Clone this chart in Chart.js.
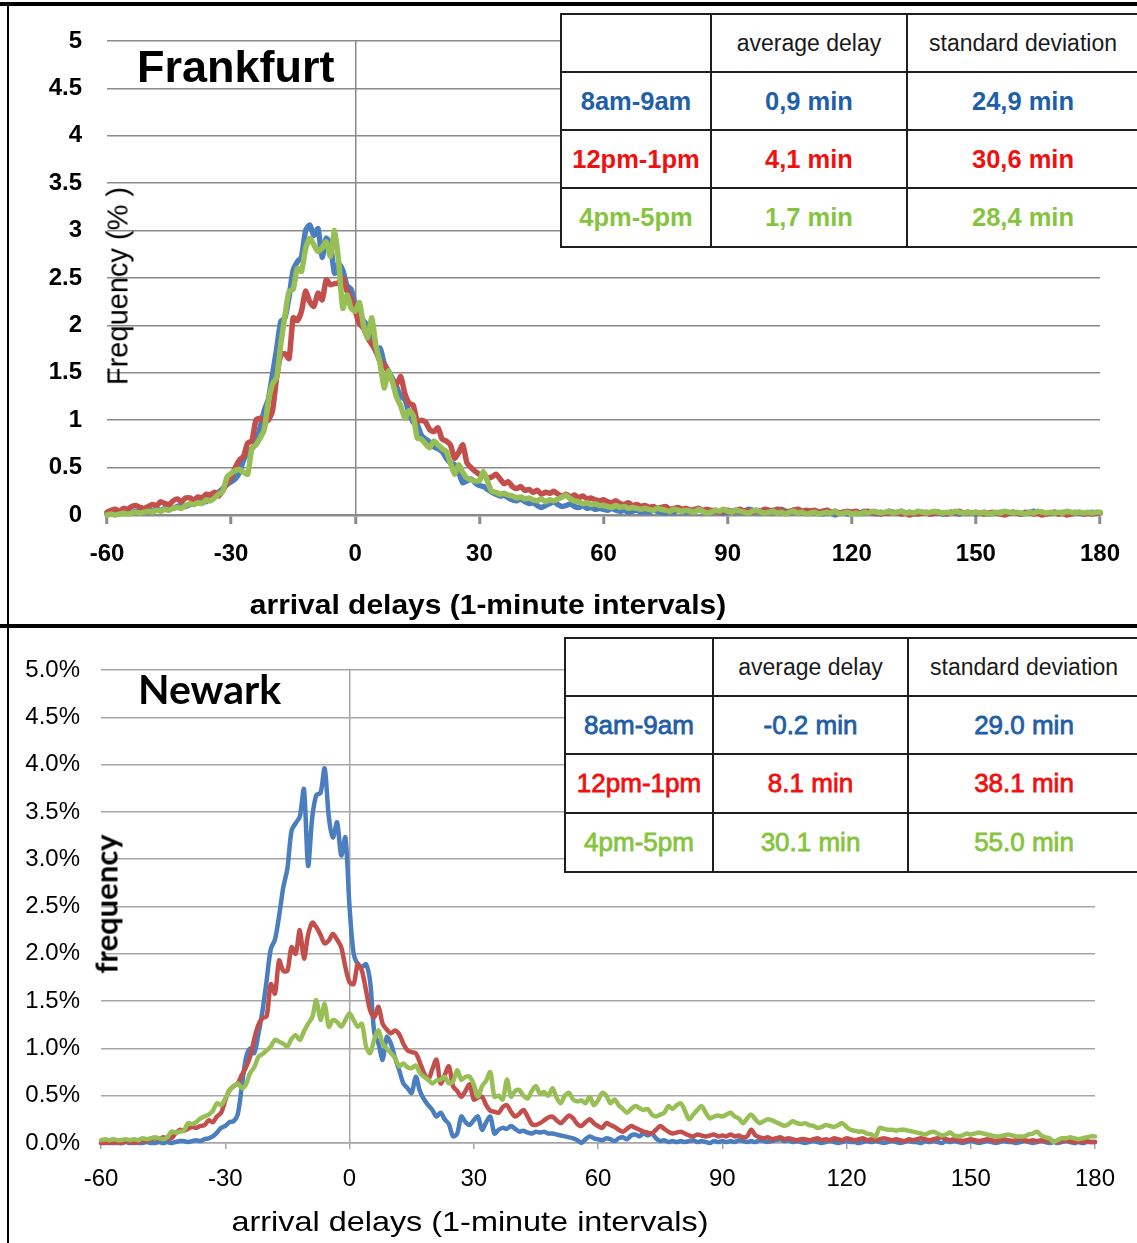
<!DOCTYPE html>
<html><head><meta charset="utf-8">
<script src="https://cdn.jsdelivr.net/npm/chart.js@4.4.1/dist/chart.umd.min.js"></script>
<style>
html,body{margin:0;padding:0;background:#fff;}
body{width:1137px;height:1243px;position:relative;overflow:hidden;font-family:'Liberation Sans',Arial,sans-serif;}
canvas{position:absolute;left:0;}
.lbl{position:absolute;white-space:nowrap;line-height:1;color:#000;}
.bar{position:absolute;background:#000;}
table.stats{position:absolute;border-collapse:collapse;table-layout:fixed;background:#fff;}
table.stats td{border:2px solid #1e1e1e;text-align:center;vertical-align:middle;padding:0;white-space:nowrap;overflow:hidden;}
table.stats td.h{font-size:23px;color:#1a1a1a;}
table.fra td.d{font-size:25.5px;font-weight:bold;}
table.ewr td.d{font-size:26px;-webkit-text-stroke:0.8px currentColor;}
.c1{color:#1f5ea8;} .c2{color:#f01010;} .c3{color:#86c440;}
</style></head><body>

<canvas id="fra" width="1137" height="625" style="top:0"></canvas>
<canvas id="ewr" width="1137" height="618" style="top:625px"></canvas>

<div class="lbl" style="left:137px;top:44px;font-size:45px;font-weight:bold;">Frankfurt</div>
<div class="lbl" style="left:118px;top:286px;font-size:29px;transform:translate(-50%,-50%) rotate(-90deg);">Frequency (% )</div>
<div class="lbl" style="left:488px;top:592px;font-size:27px;font-weight:bold;transform:translateX(-50%) scaleX(1.11);">arrival delays (1-minute intervals)</div>

<div class="lbl" style="left:138px;top:668px;font-size:41px;font-weight:bold;font-family:Lato,'Liberation Sans',sans-serif;">Newark</div>
<div class="lbl" style="left:106px;top:904px;font-size:31px;font-weight:bold;font-family:Lato,'Liberation Sans',sans-serif;transform:translate(-50%,-50%) rotate(-90deg);">frequency</div>
<div class="lbl" style="left:470px;top:1208px;font-size:28px;transform:translateX(-50%) scaleX(1.157);">arrival delays (1-minute intervals)</div>

<table class="stats fra" style="left:560px;top:13px;width:578px;">
<colgroup><col style="width:150px"><col style="width:196px"><col style="width:232px"></colgroup>
<tr style="height:58px"><td></td><td class="h">average delay</td><td class="h">standard deviation</td></tr>
<tr style="height:58px"><td class="d c1">8am-9am</td><td class="d c1">0,9 min</td><td class="d c1">24,9 min</td></tr>
<tr style="height:58px"><td class="d c2">12pm-1pm</td><td class="d c2">4,1 min</td><td class="d c2">30,6 min</td></tr>
<tr style="height:59px"><td class="d c3">4pm-5pm</td><td class="d c3">1,7 min</td><td class="d c3">28,4 min</td></tr>
</table>

<table class="stats ewr" style="left:564px;top:637px;width:575px;">
<colgroup><col style="width:148px"><col style="width:195px"><col style="width:232px"></colgroup>
<tr style="height:58px"><td></td><td class="h">average delay</td><td class="h">standard deviation</td></tr>
<tr style="height:58px"><td class="d c1">8am-9am</td><td class="d c1">-0.2 min</td><td class="d c1">29.0 min</td></tr>
<tr style="height:59px"><td class="d c2">12pm-1pm</td><td class="d c2">8.1 min</td><td class="d c2">38.1 min</td></tr>
<tr style="height:59px"><td class="d c3">4pm-5pm</td><td class="d c3">30.1 min</td><td class="d c3">55.0 min</td></tr>
</table>

<div class="bar" style="left:0;top:2px;width:1137px;height:4px;"></div>
<div class="bar" style="left:7px;top:4px;width:2px;height:622px;"></div>
<div class="bar" style="left:0;top:624px;width:1137px;height:4px;"></div>
<div class="bar" style="left:7px;top:626px;width:1.5px;height:617px;"></div>

<script>
// x categories: arrival delay in minutes (-60 .. 180)
const MINUTES = [];
for (let m = -60; m <= 180; m++) MINUTES.push(m);

const SERIES_NAMES = ['8am-9am', '12pm-1pm', '4pm-5pm'];
const X_TICKS = [-60, -30, 0, 30, 60, 90, 120, 150, 180];

// Frankfurt, frequency in %
const FRA_BLUE = [
0.01,0.02,0.01,0.03,0.02,0.03,0.02,0.04,0.03,0.04,
0.05,0.04,0.06,0.05,0.07,0.08,0.07,0.09,0.10,0.09,
0.11,0.12,0.13,0.15,0.14,0.18,0.21,0.24,0.28,0.32,
0.35,0.38,0.45,0.58,0.66,0.70,0.76,0.92,1.10,1.22,
1.48,1.75,2.04,2.08,2.30,2.58,2.67,2.72,3.00,3.06,
2.95,3.02,2.72,2.92,2.85,2.55,2.65,2.58,2.42,2.38,
2.22,2.10,2.05,1.99,1.88,1.72,1.76,1.60,1.52,1.44,
1.35,1.25,1.22,1.08,0.98,0.95,0.84,0.80,0.77,0.72,
0.70,0.67,0.60,0.55,0.53,0.45,0.34,0.36,0.38,0.34,
0.31,0.30,0.27,0.24,0.22,0.20,0.21,0.18,0.16,0.15,
0.17,0.14,0.12,0.13,0.10,0.08,0.10,0.12,0.14,0.11,
0.09,0.10,0.12,0.09,0.08,0.10,0.07,0.08,0.06,0.07,
0.06,0.05,0.07,0.05,0.04,0.05,0.03,0.04,0.05,0.03,
0.04,0.03,0.05,0.04,0.03,0.02,0.04,0.03,0.05,0.04,
0.03,0.05,0.04,0.06,0.04,0.03,0.05,0.04,0.03,0.02,
0.03,0.04,0.05,0.03,0.04,0.06,0.05,0.04,0.03,0.05,
0.04,0.05,0.03,0.06,0.04,0.03,0.05,0.04,0.02,0.03,
0.04,0.02,0.03,0.01,0.03,0.02,0.00,0.02,0.03,0.01,
0.02,0.03,0.02,0.04,0.02,0.03,0.01,0.03,0.02,0.04,
0.03,0.02,0.04,0.02,0.03,0.01,0.02,0.03,0.02,0.01,
0.02,0.03,0.01,0.02,0.03,0.02,0.01,0.02,0.03,0.02,
0.01,0.02,0.03,0.01,0.02,0.02,0.03,0.01,0.02,0.03,
0.02,0.01,0.03,0.02,0.04,0.02,0.03,0.01,0.02,0.03,
0.02,0.03,0.01,0.02,0.03,0.02,0.01,0.02,0.03,0.02,
0.02];
const FRA_RED = [
0.03,0.05,0.06,0.04,0.07,0.06,0.09,0.10,0.08,0.07,
0.09,0.11,0.10,0.14,0.12,0.11,0.15,0.17,0.14,0.18,
0.18,0.16,0.19,0.18,0.22,0.21,0.24,0.20,0.26,0.33,
0.40,0.50,0.58,0.62,0.76,0.78,1.00,1.02,0.98,1.00,
1.10,1.45,1.69,1.70,1.65,2.08,2.05,2.15,2.36,2.25,
2.20,2.34,2.27,2.48,2.43,2.44,2.45,2.50,2.36,2.29,
2.15,2.02,1.97,1.87,1.80,1.73,1.62,1.59,1.50,1.42,
1.38,1.46,1.28,1.18,1.16,0.99,1.00,0.98,0.90,0.88,
0.92,0.80,0.78,0.74,0.60,0.66,0.74,0.55,0.50,0.46,
0.43,0.42,0.39,0.40,0.43,0.38,0.33,0.35,0.30,0.28,
0.30,0.26,0.27,0.24,0.26,0.22,0.24,0.23,0.25,0.22,
0.20,0.22,0.19,0.21,0.18,0.20,0.17,0.18,0.16,0.15,
0.16,0.14,0.13,0.15,0.12,0.11,0.13,0.10,0.11,0.09,
0.10,0.08,0.09,0.07,0.08,0.09,0.06,0.07,0.08,0.06,
0.07,0.05,0.06,0.07,0.05,0.06,0.04,0.05,0.03,0.04,
0.05,0.03,0.04,0.06,0.04,0.05,0.03,0.05,0.04,0.06,
0.05,0.04,0.06,0.05,0.03,0.04,0.05,0.06,0.04,0.05,
0.04,0.05,0.03,0.04,0.05,0.03,0.04,0.02,0.03,0.04,
0.03,0.04,0.02,0.03,0.04,0.02,0.03,0.01,0.02,0.03,
0.02,0.03,0.01,0.02,0.00,0.02,0.01,0.02,0.03,0.01,
0.02,0.03,0.02,0.01,0.03,0.02,0.04,0.02,0.03,0.02,
0.03,0.02,0.01,0.02,0.03,0.02,0.01,0.00,0.02,0.03,
0.02,0.01,0.02,0.03,0.01,0.02,0.00,0.01,0.02,0.03,
0.01,0.02,0.00,0.01,0.02,0.03,0.01,0.02,0.01,0.02,
0.02];
const FRA_GREEN = [
0.00,0.01,0.00,0.01,0.02,0.01,0.02,0.03,0.02,0.03,
0.04,0.03,0.05,0.04,0.06,0.05,0.07,0.08,0.07,0.10,
0.12,0.11,0.13,0.12,0.16,0.15,0.18,0.22,0.25,0.40,
0.44,0.47,0.48,0.45,0.43,0.70,0.74,0.81,0.90,1.20,
1.38,1.45,1.80,2.10,2.36,2.38,2.60,2.57,2.81,2.92,
2.85,2.78,2.82,2.88,2.73,3.00,2.67,2.18,2.32,2.18,
2.15,2.24,2.00,1.87,2.08,1.78,1.60,1.34,1.52,1.40,
1.24,1.15,1.02,1.10,1.05,0.81,0.80,0.75,0.71,0.78,
0.74,0.70,0.67,0.55,0.43,0.53,0.45,0.39,0.37,0.36,
0.36,0.46,0.35,0.25,0.24,0.22,0.23,0.21,0.20,0.18,
0.19,0.17,0.18,0.16,0.15,0.17,0.14,0.16,0.15,0.17,
0.19,0.21,0.17,0.15,0.14,0.12,0.13,0.11,0.12,0.10,
0.10,0.09,0.08,0.10,0.08,0.09,0.07,0.08,0.07,0.06,
0.07,0.06,0.05,0.07,0.06,0.05,0.04,0.06,0.05,0.04,
0.05,0.04,0.03,0.06,0.04,0.02,0.03,0.05,0.04,0.06,
0.04,0.03,0.05,0.04,0.03,0.02,0.04,0.05,0.03,0.02,
0.03,0.04,0.02,0.03,0.01,0.03,0.04,0.02,0.03,0.01,
0.02,0.03,0.01,0.02,0.03,0.02,0.04,0.01,0.02,0.03,
0.01,0.02,0.01,0.03,0.02,0.04,0.03,0.02,0.03,0.04,
0.02,0.03,0.04,0.02,0.03,0.02,0.04,0.03,0.02,0.03,
0.04,0.03,0.02,0.03,0.02,0.04,0.03,0.02,0.03,0.02,
0.03,0.02,0.03,0.01,0.02,0.03,0.02,0.04,0.03,0.02,
0.03,0.02,0.01,0.03,0.02,0.04,0.03,0.02,0.03,0.02,
0.03,0.02,0.04,0.03,0.02,0.03,0.02,0.03,0.02,0.03,
0.03];

// Newark, frequency in %
const EWR_BLUE = [
0.00,0.01,0.00,0.01,0.00,0.00,0.01,0.00,0.01,0.00,
0.00,0.01,0.00,0.00,0.01,0.00,0.01,0.00,0.01,0.02,
0.02,0.01,0.02,0.03,0.02,0.04,0.05,0.07,0.11,0.16,
0.18,0.22,0.23,0.30,0.60,0.90,1.00,0.95,1.15,1.40,
1.72,2.05,2.15,2.40,2.70,2.90,3.30,3.38,3.45,3.74,
2.93,3.44,3.68,3.70,3.96,3.45,3.23,3.39,3.04,3.23,
2.50,2.00,1.89,1.86,1.89,1.70,1.16,1.05,0.88,1.12,
1.05,0.90,0.77,0.63,0.58,0.53,0.70,0.55,0.46,0.40,
0.35,0.28,0.32,0.25,0.20,0.07,0.10,0.28,0.22,0.19,
0.24,0.28,0.14,0.22,0.28,0.10,0.14,0.16,0.15,0.18,
0.15,0.12,0.13,0.11,0.10,0.12,0.11,0.12,0.10,0.10,
0.09,0.08,0.07,0.06,0.05,0.03,0.00,0.04,0.07,0.05,
0.04,0.03,0.05,0.04,0.02,0.05,0.06,0.04,0.08,0.09,
0.07,0.10,0.08,0.10,0.05,0.02,0.03,0.01,0.02,0.01,
0.02,0.01,0.02,0.03,0.01,0.02,0.01,0.00,0.02,0.01,
0.02,0.01,0.02,0.01,0.03,0.02,0.01,0.02,0.01,0.03,
0.02,0.01,0.02,0.03,0.04,0.02,0.03,0.01,0.02,0.01,
0.00,0.01,0.02,0.01,0.00,0.01,0.02,0.01,0.00,0.01,
0.02,0.01,0.01,0.00,0.01,0.02,0.01,0.02,0.01,0.00,
0.01,0.02,0.01,0.00,0.01,0.02,0.01,0.01,0.00,0.02,
0.01,0.02,0.01,0.00,0.02,0.01,0.02,0.01,0.00,0.01,
0.02,0.01,0.00,0.01,0.02,0.01,0.00,0.01,0.02,0.01,
0.01,0.00,0.01,0.02,0.01,0.00,0.01,0.02,0.01,0.00,
0.01,0.00,0.01,0.02,0.01,0.00,0.01,0.00,0.01,0.01,
0.01];
const EWR_RED = [
0.00,0.00,0.01,0.00,0.01,0.00,0.02,0.01,0.00,0.01,
0.03,0.02,0.04,0.05,0.04,0.06,0.05,0.05,0.10,0.14,
0.13,0.15,0.17,0.16,0.18,0.19,0.24,0.22,0.28,0.32,
0.45,0.56,0.60,0.63,0.72,0.80,0.91,1.10,1.25,1.32,
1.34,1.68,1.58,1.93,1.82,1.82,2.07,2.00,2.25,1.95,
2.20,2.33,2.28,2.20,2.11,2.14,2.21,2.15,2.07,1.86,
1.70,1.68,1.89,1.82,1.61,1.40,1.33,1.44,1.26,1.20,
1.16,1.19,1.15,1.05,0.98,0.96,0.95,0.85,0.74,0.67,
0.78,0.88,0.63,0.72,0.81,0.60,0.55,0.49,0.55,0.62,
0.46,0.48,0.49,0.40,0.34,0.33,0.32,0.38,0.40,0.33,
0.28,0.31,0.35,0.28,0.20,0.19,0.21,0.24,0.27,0.28,
0.24,0.21,0.25,0.29,0.26,0.20,0.18,0.22,0.25,0.21,
0.18,0.16,0.21,0.19,0.17,0.14,0.12,0.15,0.18,0.16,
0.14,0.12,0.11,0.10,0.14,0.18,0.15,0.12,0.10,0.11,
0.12,0.10,0.08,0.07,0.09,0.08,0.07,0.08,0.09,0.07,
0.08,0.07,0.09,0.07,0.08,0.06,0.07,0.14,0.08,0.06,
0.05,0.06,0.04,0.05,0.06,0.04,0.05,0.04,0.03,0.04,
0.04,0.03,0.04,0.05,0.03,0.04,0.03,0.05,0.04,0.03,
0.05,0.04,0.03,0.04,0.05,0.03,0.04,0.03,0.04,0.05,
0.04,0.03,0.04,0.03,0.02,0.04,0.03,0.04,0.05,0.04,
0.03,0.04,0.05,0.06,0.04,0.03,0.04,0.03,0.02,0.03,
0.04,0.03,0.02,0.03,0.04,0.03,0.02,0.03,0.04,0.03,
0.02,0.03,0.04,0.03,0.02,0.03,0.02,0.03,0.02,0.03,
0.02,0.01,0.02,0.03,0.02,0.01,0.02,0.01,0.02,0.01,
0.01];
const EWR_GREEN = [
0.03,0.04,0.03,0.04,0.03,0.03,0.04,0.03,0.04,0.03,
0.05,0.04,0.05,0.06,0.05,0.04,0.06,0.12,0.11,0.12,
0.13,0.21,0.20,0.22,0.26,0.28,0.30,0.34,0.42,0.40,
0.47,0.55,0.60,0.63,0.58,0.62,0.74,0.80,0.91,0.94,
0.98,1.02,1.09,1.07,1.05,1.02,1.10,1.14,1.09,1.18,
1.26,1.33,1.51,1.30,1.47,1.23,1.30,1.28,1.23,1.30,
1.37,1.30,1.23,1.26,1.02,0.95,1.10,1.19,1.05,1.00,
0.95,0.90,0.81,0.84,0.80,0.79,0.82,0.74,0.70,0.67,
0.63,0.66,0.67,0.70,0.63,0.65,0.77,0.67,0.70,0.70,
0.62,0.49,0.60,0.66,0.75,0.49,0.50,0.46,0.67,0.49,
0.55,0.56,0.50,0.47,0.55,0.60,0.52,0.54,0.50,0.58,
0.48,0.42,0.50,0.53,0.46,0.44,0.45,0.42,0.49,0.40,
0.45,0.53,0.50,0.42,0.46,0.40,0.36,0.32,0.36,0.39,
0.37,0.35,0.36,0.30,0.28,0.30,0.32,0.39,0.36,0.40,
0.42,0.34,0.25,0.30,0.35,0.39,0.32,0.26,0.28,0.29,
0.28,0.30,0.32,0.28,0.26,0.21,0.26,0.30,0.25,0.21,
0.23,0.25,0.24,0.22,0.20,0.18,0.20,0.23,0.21,0.20,
0.21,0.19,0.18,0.16,0.17,0.19,0.18,0.17,0.19,0.21,
0.17,0.14,0.13,0.12,0.12,0.10,0.09,0.07,0.16,0.15,
0.14,0.14,0.13,0.14,0.14,0.13,0.12,0.11,0.10,0.09,
0.11,0.12,0.10,0.08,0.09,0.11,0.08,0.07,0.08,0.10,
0.09,0.10,0.11,0.10,0.09,0.08,0.07,0.07,0.08,0.09,
0.08,0.07,0.07,0.07,0.09,0.10,0.12,0.08,0.06,0.05,
0.01,0.03,0.05,0.05,0.06,0.05,0.04,0.05,0.06,0.07,
0.07];

const COLORS = ['#4a7ebf', '#c24f4b', '#98bf55'];
const pts = arr => arr.map((v, i) => ({x: MINUTES[i], y: v}));

function build(id, series, o) {
  const fam = o.family;
  const ds = series.map((arr, i) => ({
    label: SERIES_NAMES[i], data: pts(arr), borderColor: COLORS[i], backgroundColor: COLORS[i],
    borderWidth: o.lw, pointRadius: 0, tension: o.tension, fill: false, clip: 8, order: 3 - i,
    borderJoinStyle: 'round', borderCapStyle: 'round'
  }));
  return new Chart(document.getElementById(id), {
    type: 'line',
    data: {datasets: ds},
    options: {
      responsive: false, animation: false, events: [],
      layout: {padding: {left: 0, right: o.padRight, top: o.padTop, bottom: 0}},
      plugins: {legend: {display: false}, tooltip: {enabled: false}},
      scales: {
        x: {
          type: 'linear', min: -60, max: 180,
          afterFit: s => { s.height = o.xH; },
          afterBuildTicks: s => { s.ticks = X_TICKS.map(v => ({value: v})); },
          ticks: {color: '#000', font: {family: fam, size: o.xFont, weight: o.weight}, padding: o.xPad, maxRotation: 0, autoSkip: false},
          grid: {
            color: c => (c.tick && c.tick.value === 0) ? o.grid : 'rgba(0,0,0,0)',
            lineWidth: o.gw, tickColor: o.tickColor, tickWidth: o.tickW, tickLength: o.tickL, drawTicks: true
          },
          border: {display: true, color: o.grid, width: o.axisW}
        },
        y: {
          min: 0, max: 5,
          afterFit: s => { s.width = o.yW; },
          ticks: {stepSize: 0.5, color: '#000', font: {family: fam, size: o.yFont, weight: o.weight}, padding: o.yPad, callback: o.yFmt},
          grid: {color: o.grid, lineWidth: o.gw, drawTicks: false},
          border: {display: false}
        }
      }
    }
  });
}

build('fra', [FRA_BLUE, FRA_RED, FRA_GREEN], {
  family: "'Liberation Sans', Arial, sans-serif", weight: 'bold', lw: 5.5, tension: 0.2,
  padRight: 37, padTop: 41, xH: 110, yW: 107, xFont: 24, yFont: 24, xPad: 16, yPad: 25,
  grid: '#8a8a8a', gw: 1.5, tickColor: '#8a8a8a', tickW: 3, tickL: 9, axisW: 2.5,
  yFmt: v => String(v)
});
build('ewr', [EWR_BLUE, EWR_RED, EWR_GREEN], {
  family: "'Liberation Sans', Arial, sans-serif", weight: 'normal', lw: 4.5, tension: 0.3,
  padRight: 42, padTop: 45, xH: 100, yW: 101, xFont: 24, yFont: 24, xPad: 16, yPad: 21,
  grid: '#a6a6a6', gw: 1.5, tickColor: '#a6a6a6', tickW: 1.5, tickL: 6, axisW: 1.5,
  yFmt: v => v.toFixed(1) + '%'
});
</script>
</body></html>
